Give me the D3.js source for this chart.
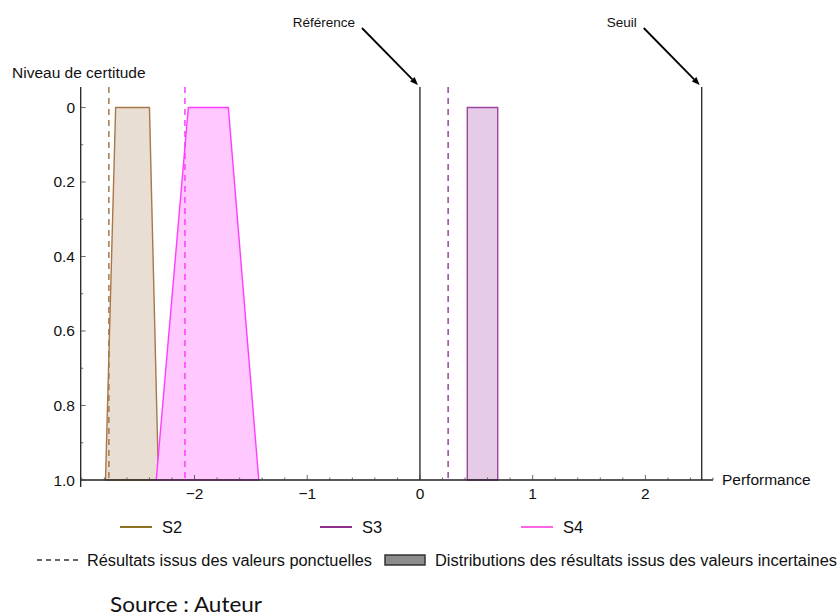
<!DOCTYPE html>
<html><head><meta charset="utf-8">
<script src="https://cdn.jsdelivr.net/npm/d3@7"></script>
<style>body{margin:0;background:#fff;} svg{display:block;}</style>
</head><body>
<svg id="c" width="840" height="616"></svg>
<script>
// ---- data ----
const series = ["S2", "S3", "S4"];
// point-value results (dashed lines)
const pointValues = [-2.76, 0.25, -2.085];
// trapezoid distributions: [left at certainty 0, right at certainty 0, left at certainty 1, right at certainty 1]
const topLeft = [-2.70, 0.42, -2.055];
const topRight = [-2.40, 0.69, -1.70];
const bottomLeft = [-2.79, 0.42, -2.34];
const bottomRight = [-2.32, 0.69, -1.43];
const refLabels = ["Référence", "Seuil"];
const refValues = [0, 2.5];
const xTicks = [-2, -1, 0, 1, 2];
const yTicks = [0, 0.2, 0.4, 0.6, 0.8, 1.0];
const yTickLabels = ["0", "0.2", "0.4", "0.6", "0.8", "1.0"];

const strokeCols = ["#A8774A", "#9B46A0", "#FF3CFF"];
const fillCols = ["#E8DED4", "#E5CBE6", "#FFC8FF"];
const legendCols = ["#8E7420", "#8E2E8E", "#FF66E6"];

const svg = d3.select("#c");
const font = "'Liberation Sans', Arial, sans-serif";
const narrow = "'Liberation Sans Narrow', " + font;

const x = d3.scaleLinear().domain([-3.01, 2.6]).range([80.7, 713]);
const y = d3.scaleLinear().domain([-0.055, 1.0]).range([87, 480]);

// fills & outlines
const order = [0, 2, 1];
order.forEach(i => {
  const pts = [[topLeft[i], 0], [topRight[i], 0], [bottomRight[i], 1], [bottomLeft[i], 1]];
  svg.append("path")
    .attr("d", d3.line().x(d => x(d[0])).y(d => y(d[1]))(pts) + "Z")
    .attr("fill", fillCols[i]).attr("stroke", strokeCols[i]).attr("stroke-width", 1.4)
    .attr("stroke-linejoin", "round");
});

// dashed point-value lines
series.forEach((s, i) => {
  svg.append("line")
    .attr("x1", x(pointValues[i])).attr("x2", x(pointValues[i]))
    .attr("y1", y(-0.055)).attr("y2", y(1))
    .attr("stroke", strokeCols[i]).attr("stroke-width", 1.5)
    .attr("stroke-dasharray", "6,5");
});

// reference lines
refValues.forEach(v => {
  svg.append("line")
    .attr("x1", x(v)).attr("x2", x(v))
    .attr("y1", y(-0.055)).attr("y2", y(1))
    .attr("stroke", "#222").attr("stroke-width", 1.3);
});

// axes
svg.append("line").attr("x1", x.range()[0]).attr("x2", x.range()[1])
  .attr("y1", y(1)).attr("y2", y(1)).attr("stroke", "#222").attr("stroke-width", 1.3);
svg.append("line").attr("x1", x.range()[0]).attr("x2", x.range()[0])
  .attr("y1", y(-0.055)).attr("y2", y(1) + 7).attr("stroke", "#222").attr("stroke-width", 1.3);

// x ticks
const xMinor = d3.range(-3.0, 2.61, 0.2).map(v => Math.round(v * 10) / 10);
xMinor.forEach(v => {
  const major = xTicks.includes(v);
  svg.append("line").attr("x1", x(v)).attr("x2", x(v))
    .attr("y1", y(1)).attr("y2", y(1) - (major ? 5 : 2.5))
    .attr("stroke", "#444").attr("stroke-width", 0.8);
});
xTicks.forEach(v => {
  svg.append("text").attr("x", x(v)).attr("y", y(1) + 19)
    .attr("text-anchor", "middle").attr("font-family", font).attr("font-size", 15.5)
    .attr("fill", "#111").text(v < 0 ? "\u2212" + Math.abs(v) : String(v));
});
// y ticks
d3.range(0, 1.01, 0.1).map(v => Math.round(v * 10) / 10).forEach(v => {
  const major = Math.round(v * 10) % 2 === 0;
  svg.append("line").attr("x1", x.range()[0]).attr("x2", x.range()[0] + (major ? 5 : 2.5))
    .attr("y1", y(v)).attr("y2", y(v)).attr("stroke", "#444").attr("stroke-width", 0.8);
});
yTicks.forEach((v, i) => {
  svg.append("text").attr("x", 75).attr("y", y(v) + 5.5)
    .attr("text-anchor", "end").attr("font-family", font).attr("font-size", 15.5)
    .attr("fill", "#111").text(yTickLabels[i]);
});

// axis labels
svg.append("text").attr("x", 12).attr("y", 78).attr("font-family", font).attr("font-size", 15.5)
  .attr("fill", "#111").text("Niveau de certitude");
svg.append("text").attr("x", 722).attr("y", 485).attr("font-family", font).attr("font-size", 15.5)
  .attr("fill", "#111").text("Performance");

// annotations with arrows
refValues.forEach((v, i) => {
  const tipX = x(v) - 2, tipY = 85;
  const sx = tipX - 56, sy = 28;
  svg.append("text").attr("x", sx - 7).attr("y", 27).attr("text-anchor", "end")
    .attr("font-family", font).attr("font-size", 13.5).attr("fill", "#111").text(refLabels[i]);
  const ang = Math.atan2(tipY - sy, tipX - sx);
  const hl = 8, hw = 3.2;
  const bx = tipX - hl * Math.cos(ang), by = tipY - hl * Math.sin(ang);
  svg.append("line").attr("x1", sx).attr("y1", sy).attr("x2", bx).attr("y2", by)
    .attr("stroke", "#000").attr("stroke-width", 1.8);
  const px = -Math.sin(ang) * hw, py = Math.cos(ang) * hw;
  svg.append("path")
    .attr("d", `M${tipX},${tipY}L${bx + px},${by + py}L${bx - px},${by - py}Z`)
    .attr("fill", "#000");
});

// legend row 1
const legX = [120, 320, 521];
series.forEach((s, i) => {
  svg.append("line").attr("x1", legX[i]).attr("x2", legX[i] + 32).attr("y1", 527).attr("y2", 527)
    .attr("stroke", legendCols[i]).attr("stroke-width", 2);
  svg.append("text").attr("x", legX[i] + 42).attr("y", 533)
    .attr("font-family", narrow).attr("font-size", 16.5)
    .attr("fill", "#111").text(s);
});
// legend row 2
svg.append("line").attr("x1", 37).attr("x2", 80).attr("y1", 560).attr("y2", 560)
  .attr("stroke", "#333").attr("stroke-width", 1.3).attr("stroke-dasharray", "5,4");
svg.append("text").attr("x", 87).attr("y", 566)
  .attr("font-family", narrow).attr("font-size", 16)
  .attr("textLength", 285).attr("lengthAdjust", "spacingAndGlyphs")
  .attr("fill", "#111").text("Résultats issus des valeurs ponctuelles");
svg.append("rect").attr("x", 385).attr("y", 555).attr("width", 40).attr("height", 10)
  .attr("fill", "#8c8c8c").attr("stroke", "#333").attr("stroke-width", 1.5);
svg.append("text").attr("x", 435).attr("y", 566)
  .attr("font-family", narrow).attr("font-size", 16)
  .attr("textLength", 402).attr("lengthAdjust", "spacingAndGlyphs")
  .attr("fill", "#111").text("Distributions des résultats issus des valeurs incertaines");

// source
svg.append("text").attr("x", 110).attr("y", 612)
  .attr("font-family", "Lato, 'Open Sans', sans-serif").attr("font-size", 21)
  .attr("textLength", 152).attr("lengthAdjust", "spacingAndGlyphs")
  .attr("fill", "#111").text("Source : Auteur");
</script>
</body></html>
